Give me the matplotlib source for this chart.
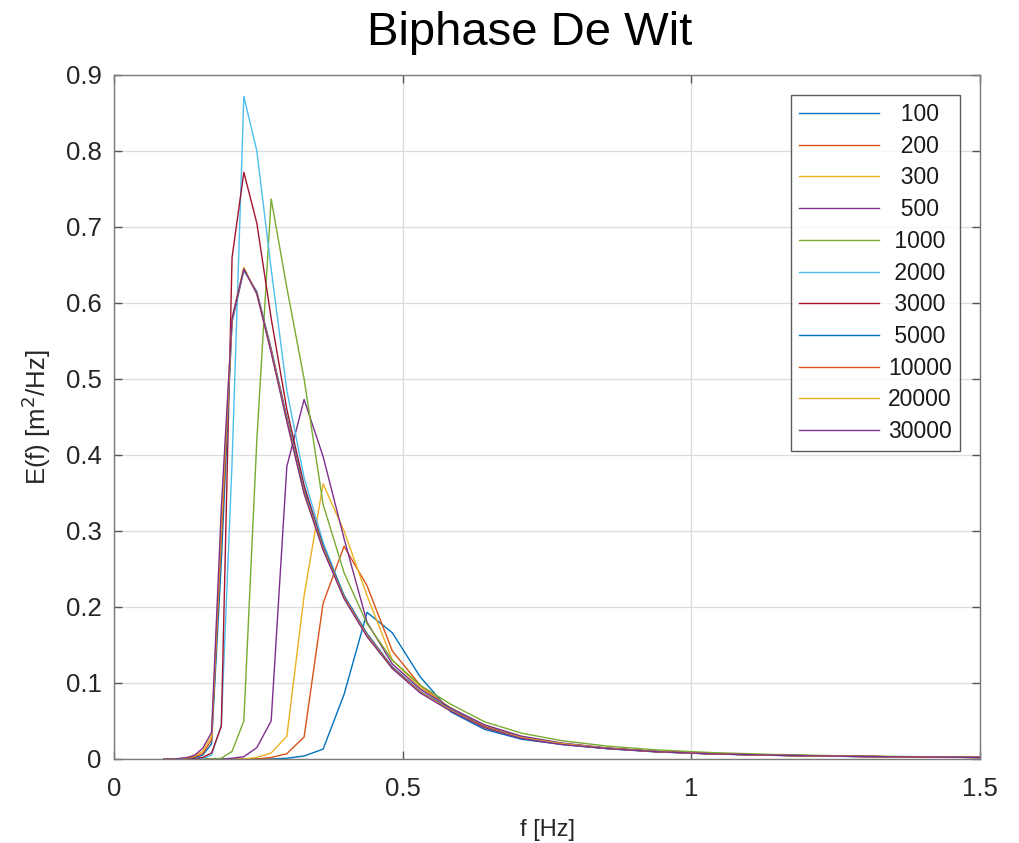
import matplotlib
matplotlib.use("Agg")
import matplotlib.pyplot as plt

plt.rcParams['font.family'] = ['Liberation Sans', 'DejaVu Sans']

freq = [0.0867, 0.0954, 0.1049, 0.1154, 0.1270, 0.1397, 0.1536, 0.1690, 0.1859, 0.2045,
        0.2249, 0.2474, 0.2722, 0.2994, 0.3293, 0.3622, 0.3985, 0.4383, 0.4822, 0.5304,
        0.5834, 0.6418, 0.7059, 0.7765, 0.8542, 0.9396, 1.0336, 1.1369, 1.2506, 1.3757, 1.5133]

labels = ["100", "200", "300", "500", "1000", "2000", "3000", "5000", "10000", "20000", "30000"]

e100 = [0, 0, 0, 0, 0, 0, 0, 0, 0, 0, 0, 0, 0, 0.001, 0.004, 0.013, 0.085, 0.193, 0.166, 0.108,
        0.062, 0.039, 0.026, 0.019, 0.0135, 0.0093, 0.0067, 0.0049, 0.0036, 0.0026, 0.0019]
e200 = [0, 0, 0, 0, 0, 0, 0, 0, 0, 0, 0, 0, 0.002, 0.007, 0.029, 0.205, 0.280, 0.228, 0.142, 0.097,
        0.066, 0.043, 0.029, 0.020, 0.0142, 0.0098, 0.0070, 0.0051, 0.0037, 0.0027, 0.0020]
e300 = [0, 0, 0, 0, 0, 0, 0, 0, 0, 0, 0, 0.002, 0.008, 0.030, 0.215, 0.362, 0.300, 0.215, 0.130, 0.094,
        0.067, 0.044, 0.029, 0.020, 0.0143, 0.0098, 0.0070, 0.0051, 0.0037, 0.0027, 0.0020]
e500 = [0, 0, 0, 0, 0, 0, 0, 0, 0, 0.001, 0.003, 0.015, 0.050, 0.385, 0.473, 0.398, 0.290, 0.180, 0.125, 0.092,
        0.067, 0.045, 0.030, 0.021, 0.0145, 0.0100, 0.0071, 0.0052, 0.0038, 0.0027, 0.0020]
e1000 = [0, 0, 0, 0, 0, 0, 0, 0, 0.001, 0.010, 0.050, 0.420, 0.737, 0.620, 0.500, 0.335, 0.245, 0.178, 0.130, 0.097,
         0.072, 0.049, 0.034, 0.024, 0.017, 0.012, 0.0085, 0.0061, 0.0044, 0.0032, 0.0023]
e2000 = [0, 0, 0, 0, 0, 0, 0.001, 0.005, 0.045, 0.390, 0.872, 0.800, 0.645, 0.485, 0.370, 0.285, 0.215, 0.163, 0.120, 0.088,
         0.064, 0.042, 0.028, 0.020, 0.014, 0.0097, 0.0069, 0.0050, 0.0037, 0.0027, 0.0020]
e3000 = [0, 0, 0, 0, 0, 0.001, 0.002, 0.008, 0.043, 0.660, 0.772, 0.705, 0.580, 0.460, 0.360, 0.280, 0.213, 0.163, 0.120, 0.088,
         0.064, 0.042, 0.028, 0.020, 0.014, 0.0097, 0.0069, 0.0050, 0.0037, 0.0027, 0.0020]
e5000 = [0, 0, 0, 0, 0.001, 0.002, 0.005, 0.020, 0.260, 0.575, 0.643, 0.615, 0.540, 0.450, 0.355, 0.280, 0.215, 0.165, 0.121, 0.089,
         0.065, 0.042, 0.028, 0.020, 0.014, 0.0097, 0.0069, 0.0050, 0.0037, 0.0027, 0.0020]
e10000 = [0, 0, 0, 0, 0.001, 0.003, 0.007, 0.025, 0.290, 0.578, 0.645, 0.613, 0.538, 0.447, 0.352, 0.278, 0.213, 0.163, 0.120, 0.088,
          0.064, 0.042, 0.028, 0.020, 0.014, 0.0097, 0.0069, 0.0050, 0.0037, 0.0027, 0.0020]
e20000 = [0, 0, 0, 0, 0.002, 0.004, 0.010, 0.030, 0.310, 0.580, 0.647, 0.612, 0.536, 0.445, 0.350, 0.276, 0.212, 0.162, 0.119, 0.088,
          0.064, 0.041, 0.028, 0.020, 0.014, 0.0097, 0.0069, 0.0050, 0.0037, 0.0027, 0.0020]
e30000 = [0, 0, 0, 0.001, 0.002, 0.005, 0.014, 0.035, 0.330, 0.580, 0.645, 0.612, 0.535, 0.444, 0.349, 0.275, 0.211, 0.161, 0.119, 0.087,
          0.063, 0.041, 0.027, 0.019, 0.0138, 0.0096, 0.0068, 0.0050, 0.0037, 0.0027, 0.0020]

series = [e100, e200, e300, e500, e1000, e2000, e3000, e5000, e10000, e20000, e30000]

colors = ["#0072BD", "#D95319", "#EDB120", "#7E2F8E", "#77AC30", "#4DBEEE", "#A2142F",
          "#0072BD", "#D95319", "#EDB120", "#7E2F8E"]

fig = plt.figure(figsize=(10.19, 8.43), dpi=100)
ax = fig.add_axes([114 / 1019, 1 - 759 / 843, (980 - 114) / 1019, (759 - 75) / 843])

for lab, vals, c in zip(labels, series, colors):
    pad = {3: "  ", 4: " ", 5: ""}[len(lab)]
    ax.plot(freq, vals, color=c, lw=1.0, label=pad + lab)

ax.set_xlim(0, 1.5)
ax.set_ylim(0, 0.9)
ax.set_xticks([0, 0.5, 1, 1.5])
ax.set_xticklabels(["0", "0.5", "1", "1.5"])
ax.set_yticks([0, 0.1, 0.2, 0.3, 0.4, 0.5, 0.6, 0.7, 0.8, 0.9])
ax.set_yticklabels(["0", "0.1", "0.2", "0.3", "0.4", "0.5", "0.6", "0.7", "0.8", "0.9"])
ax.grid(True, color="#dcdcdc", lw=0.9)
ax.set_axisbelow(True)
for s in ax.spines.values():
    s.set_color("#7a7a7a")
    s.set_linewidth(1.0)
ax.tick_params(direction="in", length=6, width=1, colors="#262626", labelsize=18.5,
               top=True, right=True, color="#555555")
ax.tick_params(axis="x", pad=13)
ax.tick_params(axis="y", pad=9)

ax.set_xlabel("f [Hz]", fontsize=17, color="#262626", labelpad=13)
ax.set_ylabel("E(f) [m$^2$/Hz]", fontsize=18.5, color="#262626", labelpad=9)
fig.text(530 / 1019, 1 - 33 / 843, "Biphase De Wit", fontsize=34, color="black",
         ha="center", va="center")

leg = ax.legend(loc="upper right", bbox_to_anchor=((960 - 114) / 866, (759 - 95) / 684),
                borderaxespad=0, fontsize=16.5, frameon=True, fancybox=False,
                edgecolor="#333333", handlelength=3.5, handletextpad=0.4,
                labelspacing=0.38, borderpad=0.35)
leg.get_frame().set_linewidth(1.0)
for t in leg.get_texts():
    t.set_color("#1a1a1a")

fig.savefig("out.png", dpi=100)
